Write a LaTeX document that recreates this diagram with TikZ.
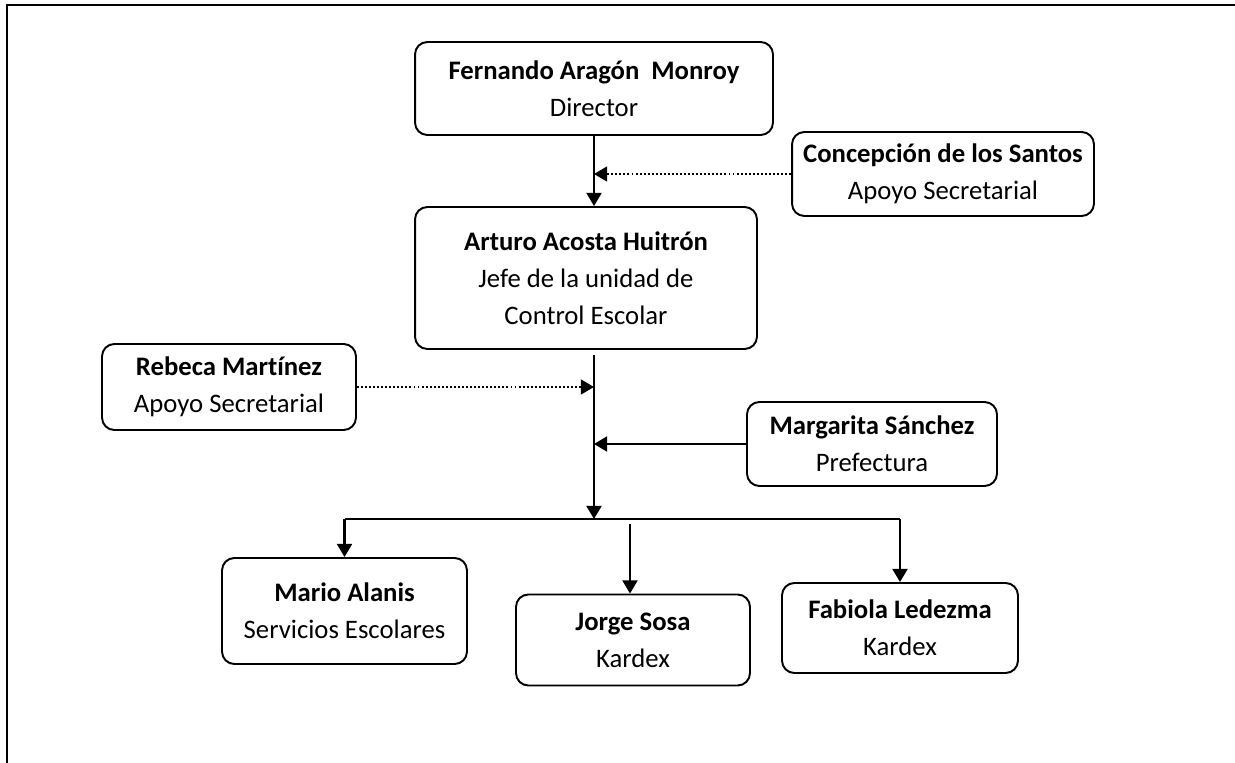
\documentclass[tikz,border=0pt]{standalone}
\usepackage{fontspec}
\setmainfont{Carlito}[Ligatures=NoCommon]
\usetikzlibrary{arrows.meta}
\tikzset{
  caja/.style={draw, line width=1.1pt, rounded corners=7pt, align=center, inner sep=0pt,
    font=\fontsize{15.2}{21}\selectfont},
  punteada/.style={line width=1.1pt, dash pattern=on 1.1pt off 1.2pt},
}
\begin{document}
\begin{tikzpicture}[>={Triangle[length=7.5pt,width=8.5pt]},x=0.02cm,y=-0.02cm,line width=1.4pt]
	\useasboundingbox (0,0) rectangle (1235,763);
	\draw[line width=1.1pt] (1235,5) -- (7,5) -- (7,763);
	\node[caja, minimum width=7.16cm, minimum height=1.86cm] (director) at (594,88.5)
		{\textbf{Fernando Aragón~~Monroy}\\Director};
	\node[caja, minimum width=6.04cm, minimum height=1.68cm] (apoyo1) at (943,174)
		{\textbf{Concepción de los Santos}\\Apoyo Secretarial};
	\node[caja, minimum width=6.84cm, minimum height=2.84cm] (jefe) at (586,278)
		{\textbf{Arturo Acosta Huitrón}\\Jefe de la unidad de\\Control Escolar};
	\node[caja, minimum width=5.08cm, minimum height=1.72cm] (apoyo2) at (229,387)
		{\textbf{Rebeca Martínez}\\Apoyo Secretarial};
	\node[caja, minimum width=5.0cm, minimum height=1.68cm] (prefectura) at (872,444)
		{\textbf{Margarita Sánchez}\\Prefectura};
	\node[caja, minimum width=4.9cm, minimum height=2.12cm] (servicios) at (344.5,611)
		{\textbf{Mario Alanis}\\Servicios Escolares};
	\node[caja, minimum width=4.68cm, minimum height=1.82cm] (kardex1) at (633,640)
		{\textbf{Jorge Sosa}\\Kardex};
	\node[caja, minimum width=4.72cm, minimum height=1.8cm] (kardex2) at (900,628)
		{\textbf{Fabiola Ledezma}\\Kardex};
	\coordinate (top) at (594,355);
	\coordinate (hub) at (594,519);
	\coordinate (jorge) at (630,524);
	
	\draw[->] (director.south) -- (director.south |- jefe.north);
	\draw[punteada,->] (apoyo1.west) -- (apoyo1.west -| director.south);
	\draw[->] (top) -- (hub);
	\draw[punteada,->] (apoyo2.east) -- (apoyo2.east -| hub);
	\draw[->] (prefectura.west) -- (prefectura.west -| hub);
	\draw (servicios.north |- hub) -- (kardex2.north |- hub);
	\draw[->] (servicios.north |- hub) -- (servicios.north);
	\draw[->] (kardex2.north |- hub) -- (kardex2.north);
	\draw[->] (jorge) -- (jorge |- kardex1.north);
\end{tikzpicture}
\end{document}
